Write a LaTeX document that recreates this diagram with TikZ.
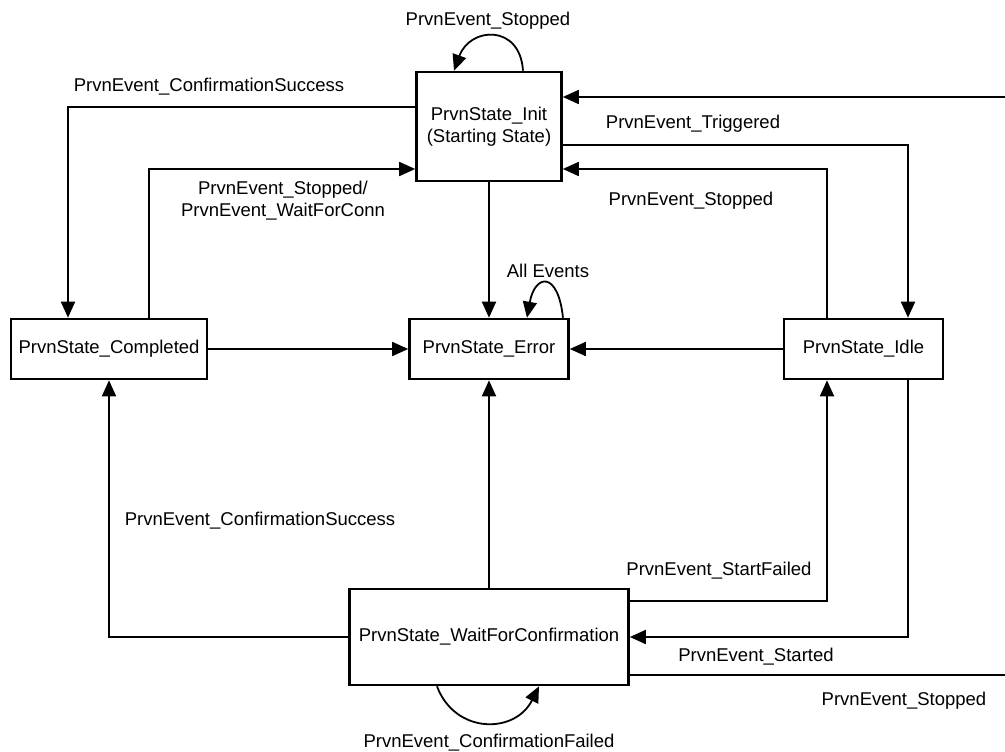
\documentclass[tikz,border=0pt]{standalone}
\usepackage{fontspec}
\setmainfont{Liberation Sans}
\usetikzlibrary{arrows.meta,calc}
\begin{document}
\begin{tikzpicture}[x=1pt,y=-1pt,
  state/.style={draw,line width=2.6pt,rectangle,inner sep=0pt,align=center,fill=white},
  conn/.style={line width=1.8pt},
  arr/.style={conn,-{Triangle[length=16pt,width=14pt]}},
  lbl/.style={inner sep=0pt,align=center},
  every node/.style={font=\fontsize{18.5}{22}\selectfont}]
\useasboundingbox[fill=white] (0,0) rectangle (1005,752);

% states
\node[state,minimum width=145pt,minimum height=109pt] (init) at (489,126.5) {PrvnState\_Init\\(Starting State)};
\node[state,minimum width=159pt,minimum height=60pt] (error) at (489,349) {PrvnState\_Error};
\node[state,minimum width=196pt,minimum height=60pt] (completed) at (109,349) {PrvnState\_Completed};
\node[state,minimum width=159pt,minimum height=60pt] (idle) at (863.5,349) {PrvnState\_Idle};
\node[state,minimum width=279pt,minimum height=96pt] (wait) at (489,637) {PrvnState\_WaitForConfirmation};

\coordinate (rt) at (1005,97);
\coordinate (rb) at (1005,675);

% Init self loop
\draw[arr] ([xshift=34pt]init.north) .. controls +(-3,-47) and +(16,-44) .. ([xshift=-35pt]init.north);
\node[lbl] (l1) at (488,21) {PrvnEvent\_Stopped};

% right edge into Init
\draw[arr] (rt) -- ([yshift=29.5pt]init.east);

% Triggered
\draw[arr] ([yshift=-18.5pt]init.east) -| ([xshift=44.5pt]idle.north);
\node[lbl] (l2) at (693,124) {PrvnEvent\_Triggered};

% Idle stopped -> Init
\draw[arr] ([xshift=-36.5pt]idle.north) |- ([yshift=-42.5pt]init.east);
\node[lbl] (l3) at (691,201) {PrvnEvent\_Stopped};

% ConfirmationSuccess Init -> Completed
\draw[arr] ([yshift=19.5pt]init.west) -| ([xshift=-41pt]completed.north);
\node[lbl] (l4) at (209,87) {PrvnEvent\_ConfirmationSuccess};

% Completed -> Init
\draw[arr] ([xshift=40pt]completed.north) |- ([yshift=-42.5pt]init.west);
\node[lbl] (l5) at (283,201) {PrvnEvent\_Stopped/\\PrvnEvent\_WaitForConn};

% into Error
\draw[arr] (init.south) -- (error.north);
\draw[arr] (completed.east) -- (error.west);
\draw[arr] (idle.west) -- (error.east);
\draw[arr] (wait.north) -- (error.south);

% Error self loop
\draw[arr] ([xshift=74pt]error.north) .. controls +(-5,-47) and +(8,-44) .. ([xshift=38pt]error.north);
\node[lbl] (l6) at (548,271) {All Events};

% Wait -> Completed
\draw[arr] (wait.west) -| (completed.south);
\node[lbl] (l7) at (260,521) {PrvnEvent\_ConfirmationSuccess};

% Wait -> Idle (StartFailed)
\draw[arr] ([yshift=36pt]wait.east) -| ([xshift=-36.5pt]idle.south);
\node[lbl] (l8) at (719,571) {PrvnEvent\_StartFailed};

% Idle -> Wait (Started)
\draw[arr] ([xshift=44.5pt]idle.south) |- (wait.east);
\node[lbl] (l9) at (756,657) {PrvnEvent\_Started};

% Wait -> out (Stopped)
\draw[conn] ([yshift=-38pt]wait.east) -- (rb);
\node[lbl] (l10) at (904,701) {PrvnEvent\_Stopped};

% Wait self loop
\draw[arr] ([xshift=-52pt]wait.south) .. controls +(18,48) and +(-24,48) .. ([xshift=50pt]wait.south);
\node[lbl] (l11) at (489,743) {PrvnEvent\_ConfirmationFailed};
\end{tikzpicture}
\end{document}
